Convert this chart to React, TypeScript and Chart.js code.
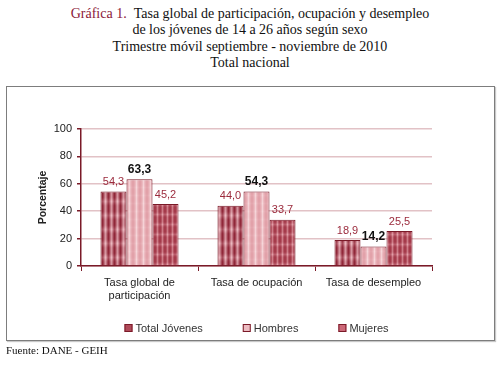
import React, { useEffect, useRef } from "react";
import { Chart, registerables } from "chart.js";

Chart.register(...registerables);

const categories: (string | string[])[] = [
  ["Tasa global de", "participación"],
  "Tasa de ocupación",
  "Tasa de desempleo",
];
const seriesNames = ["Total Jóvenes", "Hombres", "Mujeres"];
const totalJovenes = [54.3, 44.0, 18.9];
const hombres = [63.3, 54.3, 14.2];
const mujeres = [45.2, 33.7, 25.5];
const yTicks = [0, 20, 40, 60, 80, 100];

const titleLines = [
  "de los jóvenes de 14 a 26 años según sexo",
  "Trimestre móvil septiembre - noviembre de 2010",
  "Total nacional",
];

function mix(a: number[], b: number[], t: number) {
  return `rgb(${Math.round(a[0] + (b[0] - a[0]) * t)},${Math.round(
    a[1] + (b[1] - a[1]) * t
  )},${Math.round(a[2] + (b[2] - a[2]) * t)})`;
}

function makePattern(
  dark: number[],
  light: number[],
  xProf: number[],
  yProf: number[],
  yWeight: number
) {
  const w = xProf.length;
  const h = yProf.length;
  const c = document.createElement("canvas");
  c.width = w;
  c.height = h;
  const ctx = c.getContext("2d")!;
  for (let x = 0; x < w; x++) {
    for (let y = 0; y < h; y++) {
      let t = xProf[x] * (1 - yWeight) + yProf[y] * yWeight;
      t = Math.max(0, Math.min(1, t));
      ctx.fillStyle = mix(dark, light, t);
      ctx.fillRect(x, y, 1, 1);
    }
  }
  const pctx = document.createElement("canvas").getContext("2d")!;
  return pctx.createPattern(c, "repeat")!;
}

export default function App() {
  const ref = useRef<HTMLCanvasElement>(null);

  useEffect(() => {
    if (!ref.current) return;

    const totalPat = makePattern(
      [140, 32, 50],
      [242, 195, 202],
      [0.0, 0.25, 0.65, 0.95, 0.65, 0.25],
      [0.15, 0.2, 0.35, 0.55, 0.75, 0.9, 0.75, 0.55, 0.35, 0.2, 0.15, 0.15, 0.15, 0.15],
      0.3
    );
    const hombresPat = makePattern(
      [220, 145, 155],
      [252, 230, 232],
      [0.15, 0.3, 0.55, 0.9, 0.55, 0.3, 0.15],
      [0.3, 0.35, 0.45, 0.6, 0.45, 0.35, 0.3, 0.3],
      0.25
    );
    const mujeresPat = makePattern(
      [158, 48, 65],
      [240, 180, 188],
      [0.05, 0.35, 0.8, 0.35, 0.05],
      [0.15, 0.15, 0.3, 0.6, 0.9, 0.6, 0.3, 0.15, 0.15, 0.15],
      0.35
    );
    const fills = [totalPat, hombresPat, mujeresPat];
    const legendFills = ["#b04a5a", "#ecbcc2", "#cc6878"];
    const labelColors = ["#9b2a3c", "#111111", "#9b2a3c"];
    const labelFonts = [
      "11px 'Liberation Sans', Arial, sans-serif",
      "bold 12px 'Liberation Sans', Arial, sans-serif",
      "11px 'Liberation Sans', Arial, sans-serif",
    ];
    const dataSets = [totalJovenes, hombres, mujeres];

    const fmt = (v: number) => v.toFixed(1).replace(".", ",");

    const valueLabels = {
      id: "valueLabels",
      afterDatasetsDraw(chart: any) {
        const ctx = chart.ctx;
        ctx.save();
        ctx.textAlign = "center";
        ctx.textBaseline = "bottom";
        chart.data.datasets.forEach((ds: any, di: number) => {
          const meta = chart.getDatasetMeta(di);
          meta.data.forEach((el: any, i: number) => {
            ctx.font = labelFonts[di];
            ctx.fillStyle = labelColors[di];
            ctx.fillText(fmt(ds.data[i]), el.x, el.y - 4);
          });
        });
        ctx.restore();
      },
    };

    const customLegend = {
      id: "customLegend",
      afterDraw(chart: any) {
        const ctx = chart.ctx;
        const area = chart.chartArea;
        ctx.save();
        ctx.font = "11px 'Liberation Sans', Arial, sans-serif";
        ctx.textBaseline = "middle";
        ctx.textAlign = "left";
        const box = 8;
        const gapBT = 3;
        const gap = 40;
        const widths = seriesNames.map((n) => box + gapBT + ctx.measureText(n).width);
        const total = widths.reduce((a, b) => a + b, 0) + gap * (widths.length - 1);
        let x = (area.left + area.right) / 2 - total / 2;
        const y = 328;
        seriesNames.forEach((n, i) => {
          ctx.fillStyle = legendFills[i];
          ctx.fillRect(x, y - box / 2, box, box);
          ctx.strokeStyle = "#7a1a28";
          ctx.lineWidth = 1;
          ctx.strokeRect(x + 0.5, y - box / 2 + 0.5, box - 1, box - 1);
          ctx.fillStyle = "#333333";
          ctx.fillText(n, x + box + gapBT, y + 0.5);
          x += widths[i] + gap;
        });
        ctx.restore();
      },
    };

    const chart = new Chart(ref.current, {
      type: "bar",
      data: {
        labels: categories,
        datasets: seriesNames.map((name, i) => ({
          label: name,
          data: dataSets[i],
          backgroundColor: fills[i] as any,
          borderColor: "#7a1a28",
          borderWidth: 1,
          categoryPercentage: 0.667,
          barPercentage: 1.0,
        })),
      },
      options: {
        responsive: false,
        animation: false,
        layout: { padding: { left: 0, top: 129, right: 68, bottom: 39 } },
        plugins: {
          legend: { display: false },
          tooltip: { enabled: false },
          title: { display: false },
        },
        scales: {
          x: {
            afterFit: (s: any) => {
              s.height = 60;
            },
            grid: {
              offset: true,
              drawOnChartArea: false,
              drawTicks: true,
              tickLength: 5,
              color: "#7a1a28",
            },
            border: { color: "#7a1a28", width: 1.5 },
            ticks: {
              color: "#222222",
              padding: 5,
              maxRotation: 0,
              autoSkip: false,
              font: { family: "'Liberation Sans', Arial, sans-serif", size: 11 },
            },
          },
          y: {
            min: 0,
            max: 100,
            afterFit: (s: any) => {
              s.width = 81;
            },
            afterBuildTicks: (s: any) => {
              s.ticks = yTicks.map((v) => ({ value: v }));
            },
            grid: {
              color: "#e2c2c6",
              lineWidth: 1.5,
              tickColor: "#7a1a28",
              tickLength: 4,
            },
            border: { color: "#7a1a28", width: 1.5 },
            ticks: {
              color: "#222222",
              padding: 5,
              font: { family: "'Liberation Sans', Arial, sans-serif", size: 11 },
            },
            title: {
              display: true,
              text: "Porcentaje",
              color: "#222222",
              padding: { top: 37, bottom: 0 },
              font: { family: "'Liberation Sans', Arial, sans-serif", size: 10.5, weight: "bold" },
            },
          },
        },
      },
      plugins: [valueLabels, customLegend],
    });
    return () => chart.destroy();
  }, []);

  const serif = "'Liberation Serif', 'Times New Roman', serif";

  return (
    <div
      style={{
        position: "fixed",
        left: 0,
        top: 0,
        width: 500,
        height: 365,
        background: "#ffffff",
        overflow: "hidden",
      }}
    >
      <div
        style={{
          position: "absolute",
          left: 0,
          top: 6,
          width: 500,
          textAlign: "center",
          fontFamily: serif,
          fontSize: 14,
          lineHeight: "16.3px",
          color: "#111",
        }}
      >
        <div>
          <span style={{ color: "#8b1838" }}>Gráfica 1.</span>
          {"\u00a0\u00a0Tasa global de participación, ocupación y desempleo"}
        </div>
        {titleLines.map((l, i) => (
          <div key={i}>{l}</div>
        ))}
      </div>
      <div
        style={{
          position: "absolute",
          left: 6,
          top: 86,
          width: 487,
          height: 253,
          border: "1px solid #7d7d7d",
          boxShadow: "1px 1px 1px #c8c8c8",
        }}
      />
      <canvas
        ref={ref}
        width={500}
        height={365}
        style={{ position: "absolute", left: 0, top: 0, width: 500, height: 365 }}
      />
      <div
        style={{
          position: "absolute",
          left: 6,
          top: 344,
          fontFamily: serif,
          fontSize: 11,
          color: "#111",
          whiteSpace: "nowrap",
        }}
      >
        Fuente: DANE - GEIH
      </div>
    </div>
  );
}
